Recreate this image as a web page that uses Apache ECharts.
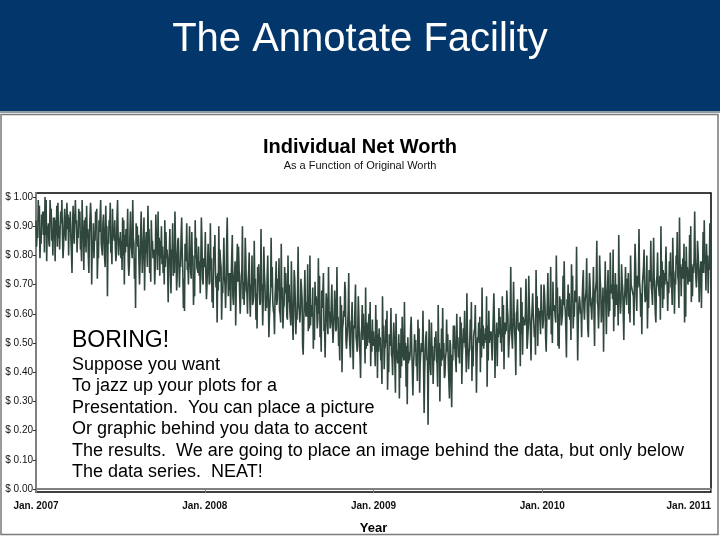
<!DOCTYPE html>
<html>
<head>
<meta charset="utf-8">
<script src="https://cdn.jsdelivr.net/npm/echarts@6/dist/echarts.min.js"></script>
<style>
html,body{margin:0;padding:0;background:#fff;}
#chart{width:720px;height:540px;}
</style>
</head>
<body>
<div id="chart"></div>
<script>
// ---- data ----
var slideTitle = 'The Annotate Facility';
var chartTitle = 'Individual Net Worth';
var chartSubtitle = 'As a Function of Original Worth';
var xAxisTitle = 'Year';
var yearTicks = [2007, 2008, 2009, 2010, 2011];
var yTickValues = [0, 0.1, 0.2, 0.3, 0.4, 0.5, 0.6, 0.7, 0.8, 0.9, 1.0];
var pointsPerYear = 100;
var startYear = 2007;
var annotationHead = 'BORING!';
var annotationLines = [
  'Suppose you want',
  'To jazz up your plots for a',
  'Presentation.  You can place a picture',
  'Or graphic behind you data to accent',
  'The results.  We are going to place an image behind the data, but only below',
  'The data series.  NEAT!'
];
// net worth on grid dates (every ~3.65 days), Jan 2007 .. Jan 2011
var netWorth = [
  0.92,0.86,0.97,0.84,0.95,0.81,0.99,0.88,0.83,0.96,0.80,0.93,0.87,0.98,0.82,0.91,0.79,0.96,0.85,0.94,0.88,0.81,0.97,0.84,0.92,
  0.86,0.95,0.78,0.90,0.83,0.97,0.80,0.93,0.70,0.91,0.85,0.96,0.79,0.88,0.82,0.94,0.76,0.90,0.84,0.98,0.77,0.89,0.83,0.93,0.80,
  0.88,0.75,0.92,0.81,0.86,0.73,0.95,0.79,0.84,0.62,0.90,0.78,0.87,0.74,0.93,0.80,0.76,0.89,0.71,0.85,0.82,0.94,0.75,0.86,0.79,
  0.83,0.70,0.88,0.76,0.81,0.67,0.91,0.74,0.79,0.85,0.69,0.87,0.75,0.61,0.82,0.77,0.90,0.72,0.80,0.66,0.86,0.74,0.78,0.93,0.70,
  0.77,0.65,0.84,0.71,0.79,0.62,0.87,0.73,0.68,0.82,0.58,0.76,0.70,0.85,0.66,0.74,0.80,0.63,0.78,0.69,0.83,0.60,0.75,0.71,0.86,
  0.67,0.74,0.59,0.80,0.66,0.72,0.55,0.77,0.64,0.70,0.83,0.61,0.73,0.52,0.68,0.76,0.60,0.71,0.65,0.79,0.57,0.69,0.63,0.74,0.58,
  0.70,0.56,0.66,0.75,0.53,0.68,0.61,0.72,0.49,0.65,0.59,0.77,0.55,0.63,0.69,0.51,0.66,0.58,0.73,0.47,0.62,0.56,0.67,0.53,0.60,
  0.64,0.50,0.68,0.55,0.59,0.44,0.63,0.57,0.71,0.48,0.61,0.53,0.58,0.41,0.62,0.50,0.66,0.46,0.55,0.60,0.43,0.57,0.52,0.64,0.47,
  0.54,0.42,0.58,0.47,0.52,0.36,0.56,0.49,0.61,0.40,0.50,0.45,0.57,0.33,0.48,0.53,0.38,0.59,0.44,0.50,0.29,0.47,0.55,0.41,0.46,
  0.51,0.37,0.55,0.43,0.48,0.26,0.52,0.45,0.58,0.39,0.49,0.44,0.54,0.35,0.50,0.42,0.62,0.38,0.47,0.53,0.31,0.49,0.44,0.56,0.40,
  0.52,0.43,0.57,0.46,0.61,0.40,0.53,0.48,0.64,0.42,0.55,0.33,0.51,0.59,0.45,0.56,0.50,0.66,0.44,0.54,0.49,0.60,0.38,0.57,0.52,
  0.59,0.47,0.63,0.53,0.68,0.45,0.58,0.52,0.71,0.49,0.61,0.55,0.42,0.64,0.56,0.60,0.48,0.73,0.54,0.62,0.57,0.46,0.66,0.59,0.53,
  0.61,0.70,0.52,0.64,0.58,0.76,0.50,0.63,0.57,0.69,0.48,0.65,0.60,0.78,0.54,0.62,0.67,0.51,0.73,0.59,0.64,0.44,0.66,0.61,0.71,
  0.58,0.68,0.55,0.74,0.62,0.66,0.49,0.71,0.63,0.80,0.57,0.69,0.64,0.53,0.75,0.61,0.67,0.82,0.59,0.70,0.56,0.65,0.77,0.60,0.68,
  0.63,0.74,0.57,0.70,0.66,0.84,0.61,0.72,0.68,0.53,0.76,0.64,0.80,0.62,0.71,0.67,0.86,0.60,0.73,0.69,0.58,0.78,0.65,0.75,0.70,
  0.67,0.81,0.63,0.74,0.70,0.88,0.62,0.77,0.72,0.84,0.59,0.76,0.71,0.90,0.66,0.79,0.73,0.85,0.64,0.78,0.74,0.92,0.68,0.80,0.75,0.83
];
// net worth one third of a step after each grid date
var netWorthMid = [
  0.83,0.99,0.79,0.94,0.87,1.00,0.78,0.91,0.99,0.85,0.93,0.78,0.97,0.86,0.90,0.99,0.83,0.88,0.98,0.80,0.95,0.74,0.89,0.99,0.81,
  0.96,0.82,0.99,0.75,0.93,0.86,0.74,0.98,0.85,0.79,0.95,0.72,0.92,0.99,0.80,0.87,0.97,0.66,0.92,0.81,0.96,0.85,0.78,0.99,0.86,
  0.79,0.93,0.70,0.89,0.96,0.77,0.84,0.99,0.72,0.91,0.83,0.70,0.95,0.81,0.68,0.88,0.97,0.74,0.92,0.79,0.70,0.86,0.95,0.73,0.90,
  0.74,0.92,0.79,0.64,0.89,0.82,0.73,0.95,0.68,0.86,0.77,0.93,0.62,0.84,0.91,0.70,0.79,0.88,0.63,0.92,0.76,0.83,0.67,0.85,0.79,
  0.88,0.70,0.76,0.91,0.64,0.83,0.75,0.57,0.90,0.78,0.69,0.86,0.62,0.93,0.74,0.61,0.87,0.72,0.56,0.84,0.76,0.66,0.90,0.63,0.79,
  0.60,0.81,0.70,0.63,0.85,0.58,0.76,0.68,0.89,0.56,0.74,0.66,0.80,0.59,0.86,0.64,0.53,0.78,0.72,0.61,0.84,0.55,0.76,0.67,0.80,
  0.62,0.78,0.51,0.72,0.60,0.83,0.57,0.69,0.46,0.75,0.64,0.54,0.80,0.59,0.48,0.71,0.63,0.79,0.52,0.68,0.74,0.45,0.64,0.76,0.55,
  0.70,0.55,0.62,0.76,0.49,0.66,0.40,0.61,0.68,0.52,0.74,0.45,0.64,0.56,0.70,0.47,0.59,0.38,0.63,0.53,0.69,0.49,0.60,0.42,0.58,
  0.49,0.63,0.38,0.55,0.44,0.66,0.41,0.58,0.34,0.53,0.62,0.39,0.51,0.60,0.43,0.31,0.55,0.47,0.64,0.35,0.52,0.44,0.59,0.32,0.53,
  0.42,0.58,0.33,0.50,0.61,0.40,0.54,0.22,0.47,0.57,0.36,0.52,0.44,0.63,0.30,0.55,0.45,0.39,0.58,0.43,0.51,0.28,0.56,0.47,0.60,
  0.45,0.59,0.36,0.55,0.49,0.67,0.41,0.58,0.37,0.52,0.63,0.46,0.57,0.40,0.69,0.48,0.55,0.35,0.61,0.51,0.44,0.67,0.53,0.42,0.62,
  0.50,0.66,0.41,0.57,0.62,0.50,0.76,0.48,0.60,0.39,0.65,0.54,0.69,0.46,0.58,0.72,0.51,0.63,0.44,0.67,0.52,0.75,0.49,0.61,0.70,
  0.55,0.67,0.47,0.74,0.60,0.53,0.71,0.62,0.80,0.49,0.66,0.56,0.73,0.63,0.45,0.70,0.58,0.77,0.55,0.68,0.83,0.57,0.64,0.52,0.75,
  0.64,0.79,0.52,0.70,0.58,0.76,0.67,0.85,0.55,0.72,0.62,0.47,0.78,0.66,0.59,0.81,0.70,0.54,0.74,0.63,0.87,0.60,0.71,0.51,0.76,
  0.72,0.60,0.80,0.68,0.56,0.77,0.73,0.89,0.59,0.70,0.82,0.65,0.55,0.75,0.85,0.63,0.72,0.57,0.81,0.66,0.90,0.62,0.74,0.83,0.61,
  0.78,0.69,0.86,0.60,0.80,0.73,0.93,0.66,0.79,0.57,0.83,0.70,0.87,0.64,0.76,0.95,0.69,0.81,0.72,0.62,0.88,0.77,0.84,0.67,0.91
];
// net worth two thirds of a step after each grid date
var netWorthLate = [
  0.88,0.93,0.86,0.91,0.95,0.87,0.90,0.84,0.94,0.89,0.86,0.92,0.83,0.90,0.95,0.87,0.91,0.85,0.89,0.93,0.86,0.90,0.84,0.91,0.88,
  0.90,0.84,0.88,0.92,0.81,0.89,0.87,0.93,0.82,0.86,0.90,0.80,0.88,0.84,0.91,0.79,0.87,0.85,0.89,0.83,0.86,0.92,0.81,0.87,0.84,
  0.85,0.80,0.87,0.83,0.78,0.88,0.82,0.86,0.79,0.84,0.87,0.77,0.83,0.86,0.80,0.82,0.85,0.78,0.84,0.81,0.76,0.83,0.80,0.85,0.77,
  0.80,0.76,0.82,0.78,0.74,0.81,0.77,0.84,0.73,0.79,0.76,0.81,0.72,0.78,0.75,0.80,0.74,0.77,0.71,0.79,0.75,0.73,0.78,0.72,0.76,
  0.73,0.77,0.70,0.75,0.72,0.78,0.69,0.74,0.71,0.76,0.67,0.73,0.70,0.75,0.68,0.72,0.66,0.74,0.69,0.71,0.67,0.73,0.65,0.70,0.68,
  0.71,0.66,0.69,0.64,0.70,0.67,0.72,0.63,0.68,0.65,0.70,0.62,0.67,0.64,0.69,0.61,0.66,0.63,0.68,0.60,0.65,0.62,0.67,0.59,0.64,
  0.62,0.66,0.60,0.64,0.58,0.63,0.61,0.65,0.57,0.62,0.59,0.64,0.56,0.61,0.58,0.63,0.55,0.60,0.57,0.62,0.54,0.59,0.56,0.61,0.57,
  0.56,0.60,0.54,0.58,0.52,0.57,0.55,0.59,0.51,0.56,0.53,0.57,0.50,0.55,0.52,0.54,0.49,0.53,0.51,0.55,0.48,0.52,0.50,0.54,0.49,
  0.51,0.47,0.53,0.49,0.45,0.52,0.48,0.50,0.44,0.49,0.46,0.51,0.43,0.48,0.45,0.50,0.42,0.47,0.44,0.49,0.43,0.46,0.48,0.42,0.47,
  0.45,0.49,0.43,0.47,0.42,0.48,0.44,0.46,0.41,0.47,0.45,0.49,0.43,0.46,0.48,0.44,0.50,0.45,0.47,0.43,0.49,0.46,0.48,0.44,0.50,
  0.47,0.51,0.46,0.50,0.48,0.53,0.47,0.51,0.49,0.54,0.48,0.52,0.50,0.55,0.49,0.53,0.51,0.56,0.50,0.54,0.52,0.57,0.51,0.55,0.53,
  0.55,0.52,0.57,0.54,0.59,0.53,0.56,0.58,0.54,0.60,0.55,0.57,0.53,0.59,0.56,0.61,0.55,0.58,0.57,0.60,0.56,0.59,0.62,0.57,0.60,
  0.58,0.62,0.57,0.60,0.63,0.58,0.61,0.59,0.64,0.60,0.62,0.58,0.63,0.61,0.65,0.59,0.62,0.64,0.60,0.66,0.61,0.63,0.60,0.65,0.62,
  0.64,0.61,0.66,0.63,0.65,0.60,0.67,0.64,0.62,0.68,0.63,0.66,0.64,0.69,0.62,0.67,0.65,0.70,0.63,0.66,0.68,0.64,0.69,0.65,0.67,
  0.68,0.65,0.70,0.67,0.72,0.66,0.69,0.71,0.67,0.73,0.68,0.70,0.66,0.72,0.69,0.74,0.68,0.71,0.70,0.73,0.69,0.75,0.70,0.72,0.71,
  0.73,0.70,0.75,0.72,0.77,0.71,0.74,0.76,0.72,0.78,0.73,0.75,0.71,0.77,0.74,0.79,0.73,0.76,0.75,0.78,0.74,0.80,0.75,0.77,0.76
];

// ---- build ----
var FONT = 'Liberation Sans, Arial, Helvetica, sans-serif';
var seriesData = [];
netWorth.forEach(function (v, i) {
  seriesData.push([startYear + i / pointsPerYear, v]);
  if (i < netWorthMid.length) {
    seriesData.push([startYear + (i + 1 / 3) / pointsPerYear, netWorthMid[i]]);
    seriesData.push([startYear + (i + 2 / 3) / pointsPerYear, netWorthLate[i]]);
  }
});

var chart = echarts.init(document.getElementById('chart'), null, {renderer: 'canvas'});
var option = {
  animation: false,
  backgroundColor: '#ffffff',
  textStyle: {fontFamily: FONT},
  title: {
    text: chartTitle,
    subtext: chartSubtitle,
    left: 'center',
    top: 132,
    itemGap: 3,
    textStyle: {fontFamily: FONT, fontSize: 20, fontWeight: 'bold', color: '#000'},
    subtextStyle: {fontFamily: FONT, fontSize: 11, color: '#111'}
  },
  grid: {
    left: 36, right: 9, top: 193, bottom: 48,
    show: true, borderColor: '#000', borderWidth: 1.5, backgroundColor: 'transparent'
  },
  xAxis: {
    type: 'value',
    min: yearTicks[0], max: yearTicks[yearTicks.length - 1], interval: 1,
    name: xAxisTitle,
    nameLocation: 'middle',
    nameGap: 30,
    nameTextStyle: {fontFamily: FONT, fontSize: 13, fontWeight: 'bold', color: '#000'},
    axisLine: {show: true, lineStyle: {color: '#808080', width: 2}},
    axisTick: {show: true, length: 4, lineStyle: {color: '#808080'}},
    splitLine: {show: false},
    axisLabel: {
      fontFamily: FONT, fontSize: 10, fontWeight: 'bold', color: '#111', margin: 9,
      alignMaxLabel: 'right',
      formatter: function (v) { return 'Jan. ' + v; }
    }
  },
  yAxis: {
    type: 'value',
    min: -0.0103, max: 1.0137,
    axisLine: {show: true, lineStyle: {color: '#808080', width: 2}},
    axisTick: {show: true, length: 3, customValues: yTickValues, lineStyle: {color: '#333'}},
    splitLine: {show: false},
    axisLabel: {
      customValues: yTickValues,
      fontFamily: FONT, fontSize: 10, color: '#111', margin: 3,
      formatter: function (v) { return '$ ' + v.toFixed(2); }
    }
  },
  series: [{
    type: 'line',
    name: 'Net Worth',
    data: seriesData,
    symbol: 'none',
    lineStyle: {color: '#2f473c', width: 1.6},
    z: 3
  }],
  graphic: [
    {type: 'rect', shape: {x: 0, y: 0, width: 720, height: 111}, style: {fill: '#03366a'}, z: -10},
    {type: 'rect', shape: {x: 0, y: 111, width: 720, height: 2}, style: {fill: '#8e9ba5'}, z: -10},
    {type: 'rect', shape: {x: 1, y: 114.5, width: 717, height: 420}, style: {fill: '#fff', stroke: '#7a7a7a', lineWidth: 1.5}, z: -10},
    {type: 'text', x: 360, y: 40, z: 10,
      style: {text: slideTitle, fill: '#fff', font: '40px ' + FONT, textAlign: 'center', textVerticalAlign: 'middle'}},
    {type: 'text', x: 72, y: 341, z: 10,
      style: {text: annotationHead, fill: '#000', font: '23px ' + FONT, textAlign: 'left', textVerticalAlign: 'middle'}},
    {type: 'text', x: 72, y: 354, z: 10,
      style: {text: annotationLines.join('\n'), fill: '#000', font: '18px ' + FONT, lineHeight: 21.5, textAlign: 'left', textVerticalAlign: 'top'}}
  ]
};
chart.setOption(option);
</script>
</body>
</html>
